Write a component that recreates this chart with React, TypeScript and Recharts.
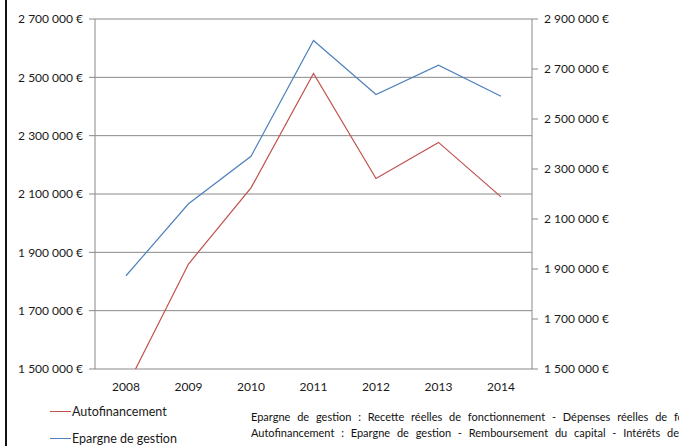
import { LineChart, Line, XAxis, YAxis, CartesianGrid } from 'recharts';

const years = ['2008', '2009', '2010', '2011', '2012', '2013', '2014'];
const autofinancement = [1435000, 1860000, 2121000, 2513000, 2153000, 2277000, 2090000];
const epargneGestion = [1873000, 2161000, 2351000, 2814000, 2598000, 2715000, 2591000];
const leftTicks = [1500000, 1700000, 1900000, 2100000, 2300000, 2500000, 2700000];
const rightTicks = [1500000, 1700000, 1900000, 2100000, 2300000, 2500000, 2700000, 2900000];
const bandEdges = [0, 1, 2, 3, 4, 5, 6, 7];

const notes = [
    'Epargne de gestion : Recette réelles de fonctionnement - Dépenses réelles de fonctionnement',
    'Autofinancement : Epargne de gestion - Remboursement du capital - Intérêts de la dette',
];

const RED = '#c0504d';
const BLUE = '#4f81bd';
const GRID = '#898989';
const FONT = 'Lato, "Open Sans", sans-serif';

const series = [
    { key: 'auto', name: 'Autofinancement', color: RED },
    { key: 'epargne', name: 'Epargne de gestion', color: BLUE },
];

const data = years.map((year, i) => ({
    year,
    auto: autofinancement[i],
    epargne: epargneGestion[i],
}));

const euro = (v: number) => v.toString().replace(/\B(?=(\d{3})+(?!\d))/g, ' ') + ' €';

const tickStyle = { fontSize: 12, fill: '#1a1a1a', fontFamily: FONT };

const App = () => {
    return (
        <div
            style={{
                position: 'fixed',
                left: 0,
                top: 0,
                width: 679,
                height: 446,
                background: '#fff',
                overflow: 'hidden',
                fontFamily: FONT,
            }}
        >
            {/* left frame edge */}
            <div style={{ position: 'absolute', left: 5, top: 0, width: 2, height: 446, background: '#111' }} />

            <LineChart
                width={679}
                height={446}
                data={data}
                margin={{ top: 19, right: 0, bottom: 47, left: 0 }}
            >
                <CartesianGrid yAxisId="left" vertical={false} stroke={GRID} strokeWidth={1} />
                {/* tick marks sit on the category boundaries */}
                <XAxis
                    xAxisId="edges"
                    type="number"
                    domain={[0, 7]}
                    ticks={bandEdges}
                    allowDataOverflow
                    height={0}
                    stroke={GRID}
                    tickSize={6}
                    tickFormatter={() => ''}
                />
                <XAxis
                    xAxisId="cat"
                    dataKey="year"
                    height={30}
                    padding={{ left: 31, right: 31 }}
                    axisLine={false}
                    tickLine={false}
                    tickSize={0}
                    tickMargin={13}
                    tick={tickStyle}
                    interval={0}
                />
                <YAxis
                    yAxisId="left"
                    orientation="left"
                    width={95}
                    domain={[1500000, 2700000]}
                    ticks={leftTicks}
                    allowDataOverflow
                    stroke={GRID}
                    tickSize={6}
                    tickMargin={6}
                    tick={tickStyle}
                    tickFormatter={euro}
                    interval={0}
                />
                <YAxis
                    yAxisId="right"
                    orientation="right"
                    width={147}
                    domain={[1500000, 2900000]}
                    ticks={rightTicks}
                    allowDataOverflow
                    stroke={GRID}
                    tickSize={6}
                    tickMargin={6}
                    tick={tickStyle}
                    tickFormatter={euro}
                    interval={0}
                />
                <Line
                    xAxisId="cat"
                    yAxisId="left"
                    type="linear"
                    dataKey="auto"
                    name="Autofinancement"
                    stroke={RED}
                    strokeWidth={1.2}
                    dot={false}
                    isAnimationActive={false}
                />
                <Line
                    xAxisId="cat"
                    yAxisId="right"
                    type="linear"
                    dataKey="epargne"
                    name="Epargne de gestion"
                    stroke={BLUE}
                    strokeWidth={1.2}
                    dot={false}
                    isAnimationActive={false}
                />
            </LineChart>

            {/* legend */}
            <div style={{ position: 'absolute', left: 50, top: 398 }}>
                {series.map((s) => (
                    <div key={s.key} style={{ display: 'flex', alignItems: 'center', height: 27, fontSize: 12.5, lineHeight: '14px', color: '#1a1a1a' }}>
                        <span style={{ display: 'inline-block', width: 21, height: 1.5, background: s.color, marginRight: 1 }} />
                        {s.name}
                    </div>
                ))}
            </div>

            {/* definitions */}
            <div style={{ position: 'absolute', left: 251, top: 409, fontSize: 11, lineHeight: '16px', color: '#111', whiteSpace: 'nowrap', wordSpacing: 4 }}>
                {notes.map((n) => (
                    <div key={n}>{n}</div>
                ))}
            </div>
        </div>
    );
};

export default App;
